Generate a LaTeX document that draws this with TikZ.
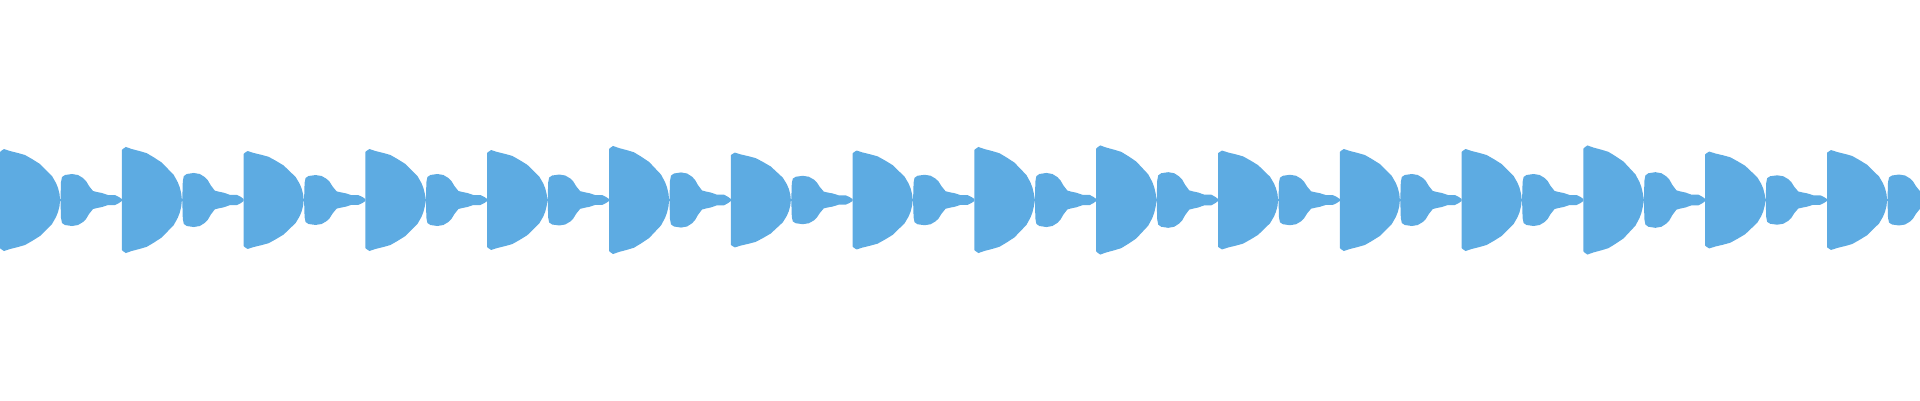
\documentclass[tikz,border=0pt]{standalone}
\definecolor{wave}{RGB}{93,171,226}
\begin{document}
\begin{tikzpicture}[x=1pt,y=1pt,wavefill/.style={fill=wave,draw=none}]
\useasboundingbox (0,0) rectangle (1920,400);
\clip (0,0) rectangle (1920,400);
\foreach \k/\f in {0/1.0,1/1.04,2/0.96,3/1.0,4/0.98,5/1.06,6/0.93,7/0.97,8/1.04,9/1.07,10/0.97,11/1.0,12/1.0,13/1.07,14/0.95,15/0.98}{
  \begin{scope}[shift={(\k*121.8,200)},yscale=\f]
  \path[wavefill] (0,0) -- (0,48) -- (1,49) -- (4,51) -- (10,49) -- (18,47) -- (25,45) -- (32,41) -- (40,36) -- (46,30) -- (52,24) -- (56,17) -- (58,12) -- (59.5,6) -- (60,1)
    -- (60.5,1) -- (61,18) -- (62,23) -- (65,25) -- (72,26) -- (78,25) -- (83,22) -- (86,19) -- (89,14) -- (93,9) -- (97,8) -- (102,7) -- (108,5) -- (115,5) -- (119,3) -- (121.8,1)
    -- (121.8,-1) -- (119,-3) -- (115,-5) -- (108,-5) -- (102,-7) -- (97,-8) -- (93,-9) -- (89,-14) -- (86,-19) -- (83,-22) -- (78,-25) -- (72,-26) -- (65,-25) -- (62,-23) -- (61,-18) -- (60.5,-1)
    -- (60,-1) -- (59.5,-6) -- (58,-12) -- (56,-17) -- (52,-24) -- (46,-30) -- (40,-36) -- (32,-41) -- (25,-45) -- (18,-47) -- (10,-49) -- (4,-51) -- (1,-49) -- (0,-48) -- cycle;
  \end{scope}
}
\end{tikzpicture}
\end{document}
